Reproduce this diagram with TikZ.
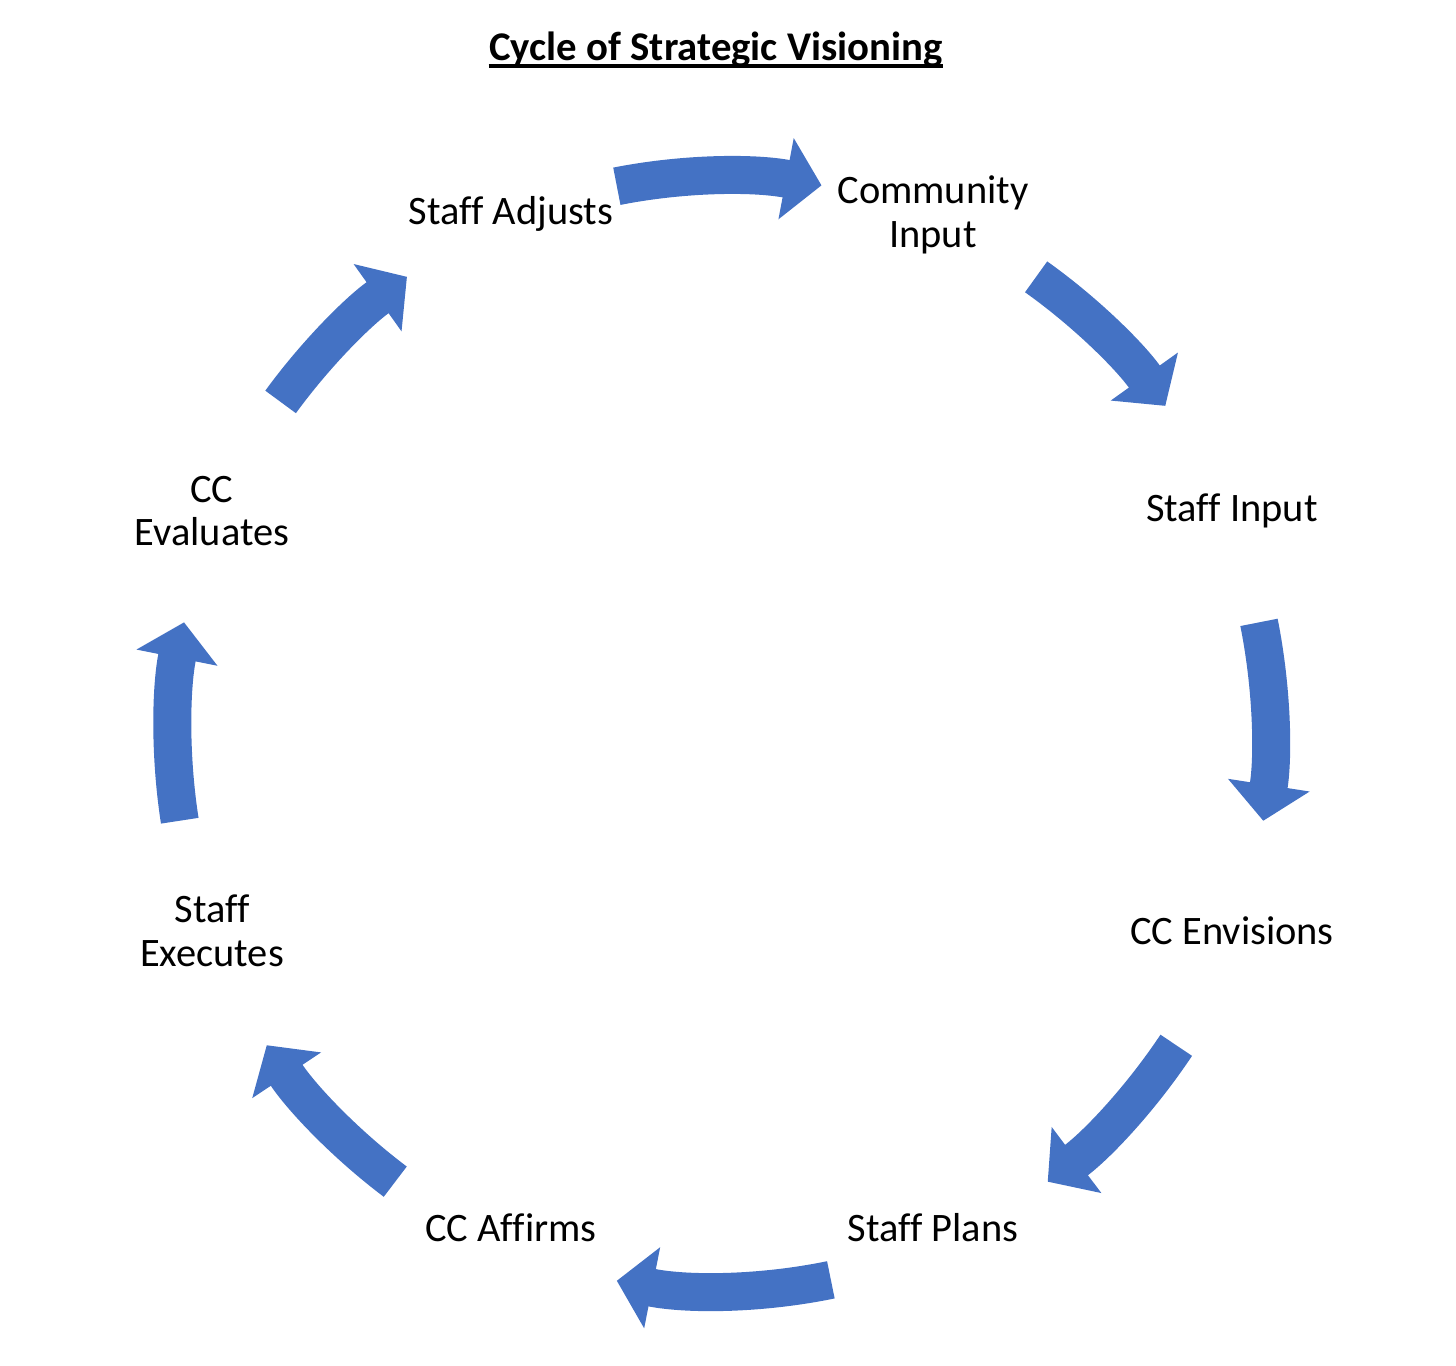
\documentclass[tikz,border=0pt]{standalone}
\usepackage{fontspec}
\setmainfont[Ligatures=NoCommon]{Carlito}
\usetikzlibrary{positioning,arrows.meta}
\definecolor{cycleblue}{HTML}{4472C4}
\tikzset{
  steplabel/.style={align=center, inner sep=1pt, font=\fontsize{11.5}{12.5}\selectfont},
  titletext/.style={inner sep=0pt, font=\fontsize{11.6}{13}\selectfont\bfseries},
  cyclearrow/.style={draw=cycleblue, line width=3.8mm,
                     -{Triangle[width=8.2mm, length=3.6mm, line width=1pt, fill=cycleblue]}},
  ring/.style={x radius=5.485, y radius=5.575},
}
\begin{document}
\begin{tikzpicture}
  \useasboundingbox (0,0) rectangle (14.56,-13.65);
  \coordinate (ctr) at (7.215,-7.335);

  % title
  \node[titletext, anchor=base] (title) at (7.16,-0.6) {Cycle of Strategic Visioning};
  \draw[line width=0.9pt] ([yshift=-1.7pt]title.base west) -- ([yshift=-1.7pt]title.base east);

  % steps of the cycle
  \node[steplabel] (adjusts)   at (5.11,-2.14)  {Staff Adjusts};
  \node[steplabel] (community) at (9.33,-2.15)  {Community\\Input};
  \node[steplabel] (staffin)   at (12.32,-5.11) {Staff Input};
  \node[steplabel] (envisions) at (12.32,-9.31) {CC Envisions};
  \node[steplabel] (plans)     at (9.33,-12.28) {Staff Plans};
  \node[steplabel] (affirms)   at (5.11,-12.28) {CC Affirms};
  \node[steplabel] (executes)  at (2.12,-9.31)  {Staff\\Executes};
  \node[steplabel] (evaluates) at (2.12,-5.11)  {CC\\Evaluates};

  % curved block arrows, clockwise
  \draw[cyclearrow] ([shift={(101:5.485 and 5.575)}]ctr) arc[ring, start angle=101, end angle=79.5];
  \draw[cyclearrow] ([shift={(55:5.485 and 5.575)}]ctr) arc[ring, start angle=55, end angle=36];
  \draw[cyclearrow] ([shift={(11.5:5.485 and 5.575)}]ctr) arc[ring, start angle=11.5, end angle=-9];
  \draw[cyclearrow] ([shift={(-34:5.485 and 5.575)}]ctr) arc[ring, start angle=-34, end angle=-53.5];
  \draw[cyclearrow] ([shift={(-78.5:5.485 and 5.575)}]ctr) arc[ring, start angle=-78.5, end angle=-101];
  \draw[cyclearrow] ([shift={(233.5:5.485 and 5.575)}]ctr) arc[ring, start angle=233.5, end angle=214];
  \draw[cyclearrow] ([shift={(189:5.485 and 5.575)}]ctr) arc[ring, start angle=189, end angle=168.5];
  \draw[cyclearrow] ([shift={(143.5:5.485 and 5.575)}]ctr) arc[ring, start angle=143.5, end angle=125];
\end{tikzpicture}
\end{document}
